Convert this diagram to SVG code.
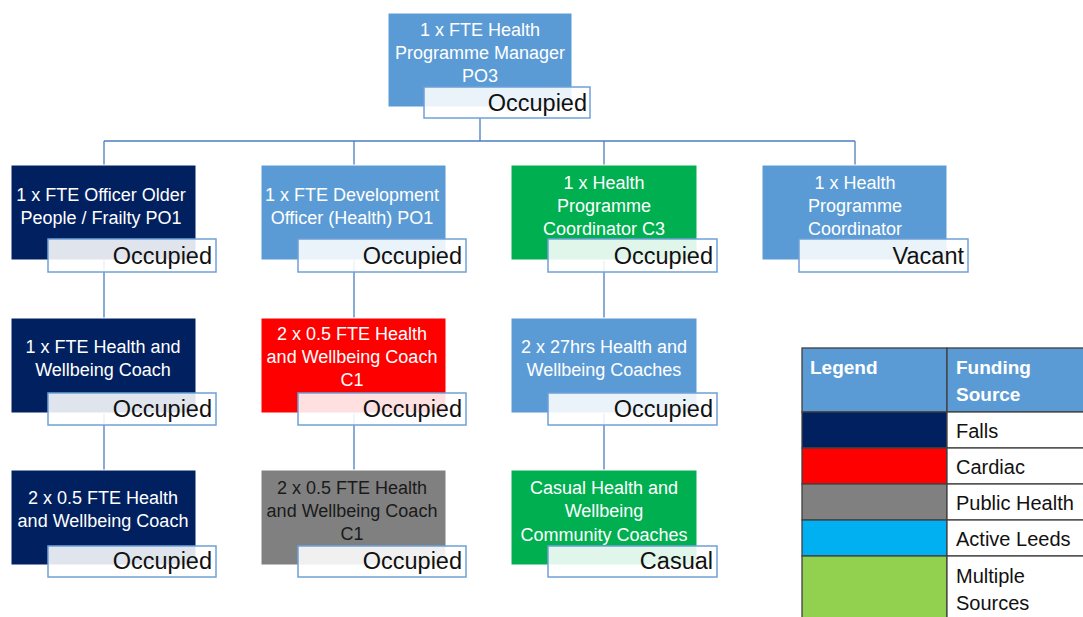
<svg xmlns="http://www.w3.org/2000/svg" width="1083" height="617" viewBox="0 0 1083 617">
<style>
.box{stroke:#ffffff;stroke-width:1}
.lb{fill:#ffffff;fill-opacity:0.88;stroke:#6fa0d8;stroke-width:1.5}
.t{font-family:"Liberation Sans",Arial,sans-serif;font-size:18px;fill:#ffffff;text-anchor:middle}
.td{fill:#1a1a1a}
.s{font-family:"Liberation Sans",Arial,sans-serif;font-size:23.5px;fill:#111111;text-anchor:end}
.c{fill:none;stroke:#4a7fc1;stroke-width:1.3}
.lg{font-family:"Liberation Sans",Arial,sans-serif;font-size:20px;fill:#111111}
.lh{font-family:"Liberation Sans",Arial,sans-serif;font-size:19px;font-weight:bold;fill:#ffffff}
.cell{stroke:#404040;stroke-width:1.3}
</style>
<rect width="1083" height="617" fill="#ffffff"/>
<g id="connectors">
<path class="c" d="M480,118 V141 M104,141 H855 M104,141 V165 M354,141 V165 M604,141 V165 M855,141 V165"/>
<path class="c" d="M104,260 V318 M104,413 V470 M354,260 V318 M354,413 V470 M604,260 V318 M604,413 V470"/>
</g>
<g id="n-manager">
<rect class="box" x="388" y="13" width="184" height="94" fill="#5b9bd5"/>
<text class="t" x="480" y="36">1 x FTE Health</text>
<text class="t" x="480" y="59">Programme Manager</text>
<text class="t" x="480" y="82">PO3</text>
<rect class="lb" x="424" y="87" width="166" height="31"/>
<text class="s" x="587" y="111">Occupied</text>
</g>
<g id="n-older">
<rect class="box" x="11" y="165" width="185" height="95" fill="#002060"/>
<text class="t" x="101" y="201">1 x FTE Officer Older</text>
<text class="t" x="101" y="224">People / Frailty PO1</text>
<rect class="lb" x="48" y="239" width="168" height="33"/>
<text class="s" x="212" y="264">Occupied</text>
</g>
<g id="n-dev">
<rect class="box" x="261" y="165" width="185" height="95" fill="#5b9bd5"/>
<text class="t" x="352" y="201">1 x FTE Development</text>
<text class="t" x="352" y="224">Officer (Health) PO1</text>
<rect class="lb" x="298" y="239" width="168" height="33"/>
<text class="s" x="462" y="264">Occupied</text>
</g>
<g id="n-coordc3">
<rect class="box" x="511" y="165" width="186" height="95" fill="#00b050"/>
<text class="t" x="604" y="189">1 x Health</text>
<text class="t" x="604" y="212">Programme</text>
<text class="t" x="604" y="235">Coordinator C3</text>
<rect class="lb" x="548" y="239" width="169" height="33"/>
<text class="s" x="713" y="264">Occupied</text>
</g>
<g id="n-coord">
<rect class="box" x="762" y="165" width="185" height="95" fill="#5b9bd5"/>
<text class="t" x="855" y="189">1 x Health</text>
<text class="t" x="855" y="212">Programme</text>
<text class="t" x="855" y="235">Coordinator</text>
<rect class="lb" x="799" y="239" width="169" height="33"/>
<text class="s" x="964" y="264">Vacant</text>
</g>
<g id="n-hwc1">
<rect class="box" x="11" y="318" width="185" height="95" fill="#002060"/>
<text class="t" x="103" y="353">1 x FTE Health and</text>
<text class="t" x="103" y="376">Wellbeing Coach</text>
<rect class="lb" x="48" y="393" width="168" height="32"/>
<text class="s" x="212" y="417">Occupied</text>
</g>
<g id="n-hwc-cardiac">
<rect class="box" x="261" y="318" width="185" height="95" fill="#ff0000"/>
<text class="t" x="352" y="340">2 x 0.5 FTE Health</text>
<text class="t" x="352" y="363">and Wellbeing Coach</text>
<text class="t" x="352" y="386">C1</text>
<rect class="lb" x="298" y="393" width="168" height="32"/>
<text class="s" x="462" y="417">Occupied</text>
</g>
<g id="n-hwc27">
<rect class="box" x="511" y="318" width="186" height="95" fill="#5b9bd5"/>
<text class="t" x="604" y="353">2 x 27hrs Health and</text>
<text class="t" x="604" y="376">Wellbeing Coaches</text>
<rect class="lb" x="548" y="393" width="169" height="32"/>
<text class="s" x="713" y="417">Occupied</text>
</g>
<g id="n-hwc2">
<rect class="box" x="11" y="470" width="185" height="95" fill="#002060"/>
<text class="t" x="103" y="504">2 x 0.5 FTE Health</text>
<text class="t" x="103" y="527">and Wellbeing Coach</text>
<rect class="lb" x="48" y="546" width="168" height="31"/>
<text class="s" x="212" y="569">Occupied</text>
</g>
<g id="n-hwc-ph">
<rect class="box" x="261" y="470" width="185" height="95" fill="#808080"/>
<text class="t td" x="352" y="494">2 x 0.5 FTE Health</text>
<text class="t td" x="352" y="517">and Wellbeing Coach</text>
<text class="t td" x="352" y="540">C1</text>
<rect class="lb" x="298" y="546" width="168" height="31"/>
<text class="s" x="462" y="569">Occupied</text>
</g>
<g id="n-casual">
<rect class="box" x="511" y="470" width="186" height="95" fill="#00b050"/>
<text class="t" x="604" y="494">Casual Health and</text>
<text class="t" x="604" y="517">Wellbeing</text>
<text class="t" x="604" y="541">Community Coaches</text>
<rect class="lb" x="548" y="546" width="169" height="31"/>
<text class="s" x="713" y="569">Casual</text>
</g>
<g id="legend">
<rect class="cell" x="802" y="348" width="145" height="64" fill="#5b9bd5"/>
<rect class="cell" x="947" y="348" width="140" height="64" fill="#5b9bd5"/>
<text class="lh" x="810" y="374">Legend</text>
<text class="lh" x="956" y="374">Funding</text>
<text class="lh" x="956" y="401">Source</text>
<rect class="cell" x="802" y="412" width="145" height="36" fill="#002060"/>
<rect class="cell" x="947" y="412" width="140" height="36" fill="#ffffff"/>
<text class="lg" x="956" y="438">Falls</text>
<rect class="cell" x="802" y="448" width="145" height="36" fill="#ff0000"/>
<rect class="cell" x="947" y="448" width="140" height="36" fill="#ffffff"/>
<text class="lg" x="956" y="474">Cardiac</text>
<rect class="cell" x="802" y="484" width="145" height="36" fill="#808080"/>
<rect class="cell" x="947" y="484" width="140" height="36" fill="#ffffff"/>
<text class="lg" x="956" y="510">Public Health</text>
<rect class="cell" x="802" y="520" width="145" height="36" fill="#00b0f0"/>
<rect class="cell" x="947" y="520" width="140" height="36" fill="#ffffff"/>
<text class="lg" x="956" y="546">Active Leeds</text>
<rect class="cell" x="802" y="556" width="145" height="70" fill="#92d050"/>
<rect class="cell" x="947" y="556" width="140" height="70" fill="#ffffff"/>
<text class="lg" x="956" y="583">Multiple</text>
<text class="lg" x="956" y="610">Sources</text>
</g>
</svg>
